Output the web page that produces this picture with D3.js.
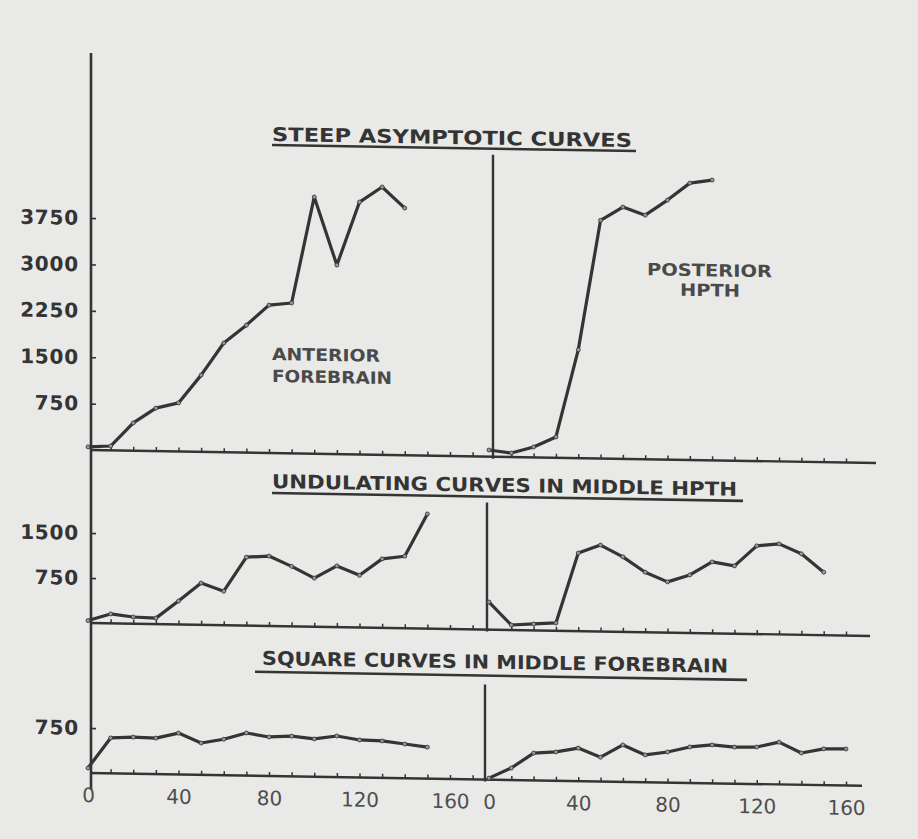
<!DOCTYPE html>
<html><head><meta charset="utf-8">
<script src="https://cdn.jsdelivr.net/npm/d3@7"></script>
<style>html,body{margin:0;padding:0;background:#e9e9e7;} svg{display:block}</style>
</head><body><svg id="c" width="918" height="839"></svg>
<script>
// ---------- data ----------
const timesAnterior   = [0,10,20,30,40,50,60,70,80,90,100,110,120,130,140];
const anteriorForebrain = [50,70,450,695,785,1240,1765,2060,2390,2430,4150,3055,4080,4330,3995];

const timesPosterior  = [0,10,20,30,40,50,60,70,80,90,100];
const posteriorHpth   = [107,65,168,336,1750,3850,4070,3945,4195,4475,4530];

const timesMiddle     = [0,10,20,30,40,50,60,70,80,90,100,110,120,130,140,150];
const middleHpthLeft  = [40,157,112,100,390,697,567,1140,1165,1000,810,1020,870,1150,1200,1910];
const middleHpthRight = [460,83,107,130,1300,1440,1250,1000,845,967,1190,1130,1470,1510,1350,1050];
const middleForebrainLeft = [83,590,610,600,690,530,600,710,650,670,630,685,625,615,570,525];

const timesSquareRight = [0,10,20,30,40,50,60,70,80,90,100,110,120,130,140,150,160];
const middleForebrainRight = [25,200,455,480,550,405,615,455,510,600,640,610,617,705,530,605,610];

const yTicksTop = [750,1500,2250,3000,3750];
const yTicksMid = [750,1500];
const yTicksBot = [750];
const xTicksLeft  = [10,20,30,40,50,60,70,80,90,100,110,120,130,140,150,160,170];
const xTicksRight = [10,20,30,40,50,60,70,80,90,100,110,120,130,140,150,160];
const xTickLabels = [0,40,80,120,160];

const titles = ["STEEP ASYMPTOTIC CURVES","UNDULATING CURVES IN MIDDLE HPTH","SQUARE CURVES IN MIDDLE FOREBRAIN"];
const labelAnterior  = ["ANTERIOR","FOREBRAIN"];
const labelPosterior = ["POSTERIOR","HPTH"];

// ---------- drawing ----------
const W=918,H=839;
const ink='#343434', soft='#4a4a4a';
const svg=d3.select('#c');
svg.append('rect').attr('width',W).attr('height',H).attr('fill','#e9e9e7');
const k=0.0166; // slight skew of the scanned page
const g=svg.append('g').attr('transform',`matrix(1,${k},0,1,0,${-90*k})`);

const xL=d3.scaleLinear().domain([0,160]).range([88,450]);
const xR=d3.scaleLinear().domain([0,160]).range([489,846]);
const yTop=d3.scaleLinear().domain([0,3750]).range([450,218]);
const yMid=d3.scaleLinear().domain([0,1500]).range([623,533]);
const yBot=d3.scaleLinear().domain([0,750]).range([773,728]);

// main left vertical axis
g.append('line').attr('x1',91).attr('x2',91).attr('y1',53).attr('y2',790)
  .attr('stroke',ink).attr('stroke-width',2.6);

// baselines
[[yTop,876],[yMid,870],[yBot,862]].forEach(([y,xe])=>{
  g.append('line').attr('x1',90).attr('x2',xe).attr('y1',y(0)).attr('y2',y(0))
   .attr('stroke',ink).attr('stroke-width',2.4);
});
// right verticals
[[493,148,yTop],[487,496,yMid],[485,678,yBot]].forEach(([x,y0,y])=>{
  g.append('line').attr('x1',x).attr('x2',x).attr('y1',y0).attr('y2',y(0)+2)
   .attr('stroke',ink).attr('stroke-width',2.4);
});

// y axes
[[yTop,yTicksTop],[yMid,yTicksMid],[yBot,yTicksBot]].forEach(([y,tv])=>{
  const ax=g.append('g').attr('transform','translate(91,0)')
    .call(d3.axisLeft(y).tickValues(tv).tickFormat(d3.format('d'))
      .tickSizeInner(-5).tickSizeOuter(0).tickPadding(12));
  ax.select('.domain').remove();
  ax.selectAll('line').attr('stroke',ink).attr('stroke-width',1.6);
  ax.selectAll('text').attr('font-family','"DejaVu Sans"').attr('font-weight','bold')
    .attr('font-size',20).attr('fill',ink).attr('letter-spacing',0.8);
});

// x axes
const panelsX=[[xL,xTicksLeft],[xR,xTicksRight]];
[[yTop,false],[yMid,false],[yBot,true]].forEach(([y,lab])=>{
  panelsX.forEach(([x,tv])=>{
    const vals = lab ? [0].concat(tv) : tv;
    const ax=g.append('g').attr('transform',`translate(0,${y(0)})`)
      .call(d3.axisBottom(x).tickValues(vals).tickSizeInner(-4).tickSizeOuter(0).tickPadding(15)
        .tickFormat(d=> (lab && xTickLabels.includes(d)) ? String(d) : ''));
    ax.select('.domain').remove();
    ax.selectAll('line').attr('stroke',ink).attr('stroke-width',1.5)
      .attr('opacity',d=>d===0?0:1);
    ax.selectAll('text').attr('font-family','"DejaVu Sans"').attr('font-size',20)
      .attr('fill','#4e4e4e');
  });
});

// curves
const series=[
  [xL,yTop,timesAnterior,anteriorForebrain],
  [xR,yTop,timesPosterior,posteriorHpth],
  [xL,yMid,timesMiddle,middleHpthLeft],
  [xR,yMid,timesMiddle,middleHpthRight],
  [xL,yBot,timesMiddle,middleForebrainLeft],
  [xR,yBot,timesSquareRight,middleForebrainRight]
];
series.forEach(([x,y,ts,vs])=>{
  const pts=ts.map((t,i)=>[t,vs[i]]);
  g.append('path').datum(pts)
    .attr('d',d3.line().x(d=>x(d[0])).y(d=>y(d[1])))
    .attr('fill','none').attr('stroke',ink).attr('stroke-width',3.2)
    .attr('stroke-linejoin','round').attr('stroke-linecap','round');
  g.append('g').selectAll('circle').data(pts).join('circle')
    .attr('cx',d=>x(d[0])).attr('cy',d=>y(d[1])).attr('r',2)
    .attr('fill','#9a9a9a').attr('stroke',ink).attr('stroke-width',0.8);
});

// titles with underlines
const titleLayout=[
  {x:272,y:138,w:360,ux1:272,ux2:636,uy:142},
  {x:272,y:485,w:465,ux1:272,ux2:743,uy:490},
  {x:262,y:662,w:466,ux1:255,ux2:747,uy:669}
];
titles.forEach((t,i)=>{
  const L=titleLayout[i];
  g.append('text').attr('x',L.x).attr('y',L.y).text(t)
    .attr('font-family','"DejaVu Sans"').attr('font-weight','bold').attr('font-size',19)
    .attr('fill',ink).attr('textLength',L.w).attr('lengthAdjust','spacingAndGlyphs');
  g.append('line').attr('x1',L.ux1).attr('x2',L.ux2).attr('y1',L.uy).attr('y2',L.uy)
    .attr('stroke',ink).attr('stroke-width',2.6);
});

// panel labels
const lab1=[{x:272,y:357,w:108},{x:272,y:379,w:120}];
labelAnterior.forEach((t,i)=>{
  g.append('text').attr('x',lab1[i].x).attr('y',lab1[i].y).text(t)
    .attr('font-family','"DejaVu Sans"').attr('font-weight','bold').attr('font-size',17)
    .attr('fill',soft).attr('textLength',lab1[i].w).attr('lengthAdjust','spacingAndGlyphs');
});
const lab2=[{x:647,y:266,w:125},{x:680,y:286,w:60}];
labelPosterior.forEach((t,i)=>{
  g.append('text').attr('x',lab2[i].x).attr('y',lab2[i].y).text(t)
    .attr('font-family','"DejaVu Sans"').attr('font-weight','bold').attr('font-size',17)
    .attr('fill',soft).attr('textLength',lab2[i].w).attr('lengthAdjust','spacingAndGlyphs');
});
</script>
</body></html>
